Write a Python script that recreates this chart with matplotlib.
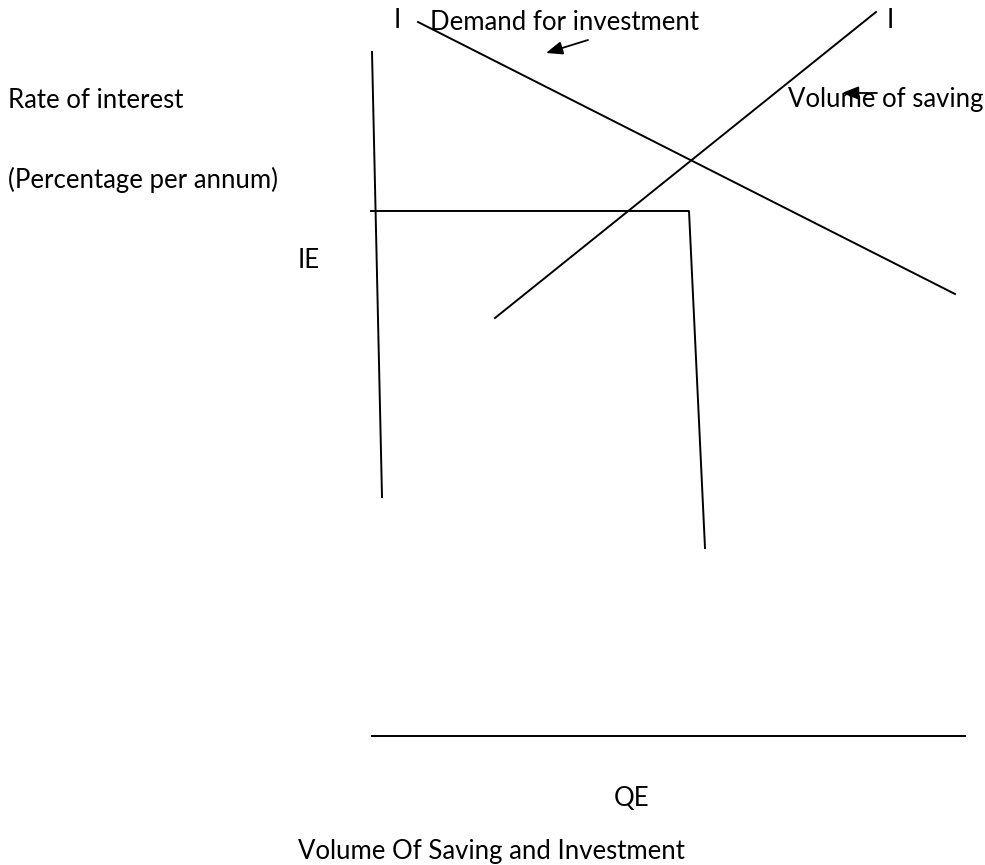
import matplotlib
matplotlib.use("Agg")
import matplotlib.pyplot as plt

# Diagram geometry, in pixel units of the original sketch (y grows downward)
rate_axis_x = [372, 382]
rate_axis_y = [52, 497]
equilibrium_x = [371, 689, 705]
equilibrium_y = [211, 211, 548]
demand_x = [418, 955]
demand_y = [22, 294]
saving_x = [495, 876]
saving_y = [318, 12]
volume_axis_x = [372, 965]
volume_axis_y = [736, 736]

# arrows: (tail, head)
demand_arrow = [(588, 40), (546, 53)]
saving_arrow = [(877, 93), (842, 93)]

labels = [
    ("I", 394, 20, "left"),
    ("Demand for investment", 430, 22, "left"),
    ("I", 887, 20, "left"),
    ("Rate of interest", 8, 101, "left"),
    ("Volume of saving", 983, 99, "right"),
    ("(Percentage per annum)", 8, 180, "left"),
    ("IE", 298, 261, "left"),
    ("QE", 614, 799, "left"),
    ("Volume Of Saving and Investment", 298, 851, "left"),
]

plt.rcParams["font.family"] = ["Lato", "DejaVu Sans"]

fig = plt.figure(figsize=(9.85, 8.65), dpi=100)
ax = fig.add_axes([0, 0, 1, 1])
ax.set_xlim(0, 985)
ax.set_ylim(865, 0)
ax.axis("off")

lw = 1.4
ax.plot(rate_axis_x, rate_axis_y, color="black", lw=lw)
ax.plot(equilibrium_x, equilibrium_y, color="black", lw=lw)
ax.plot(demand_x, demand_y, color="black", lw=lw)
ax.plot(saving_x, saving_y, color="black", lw=lw)
ax.plot(volume_axis_x, volume_axis_y, color="black", lw=lw)

for tail, head in (demand_arrow, saving_arrow):
    ax.annotate("", xy=head, xytext=tail,
                arrowprops=dict(arrowstyle="-|>,head_length=1.0,head_width=0.4",
                                color="black", lw=1.3, shrinkA=0, shrinkB=0))

for text, x, y, ha in labels:
    ax.text(x, y, text, ha=ha, va="center", fontsize=18.5, color="black")

fig.savefig("out.png", dpi=100)
